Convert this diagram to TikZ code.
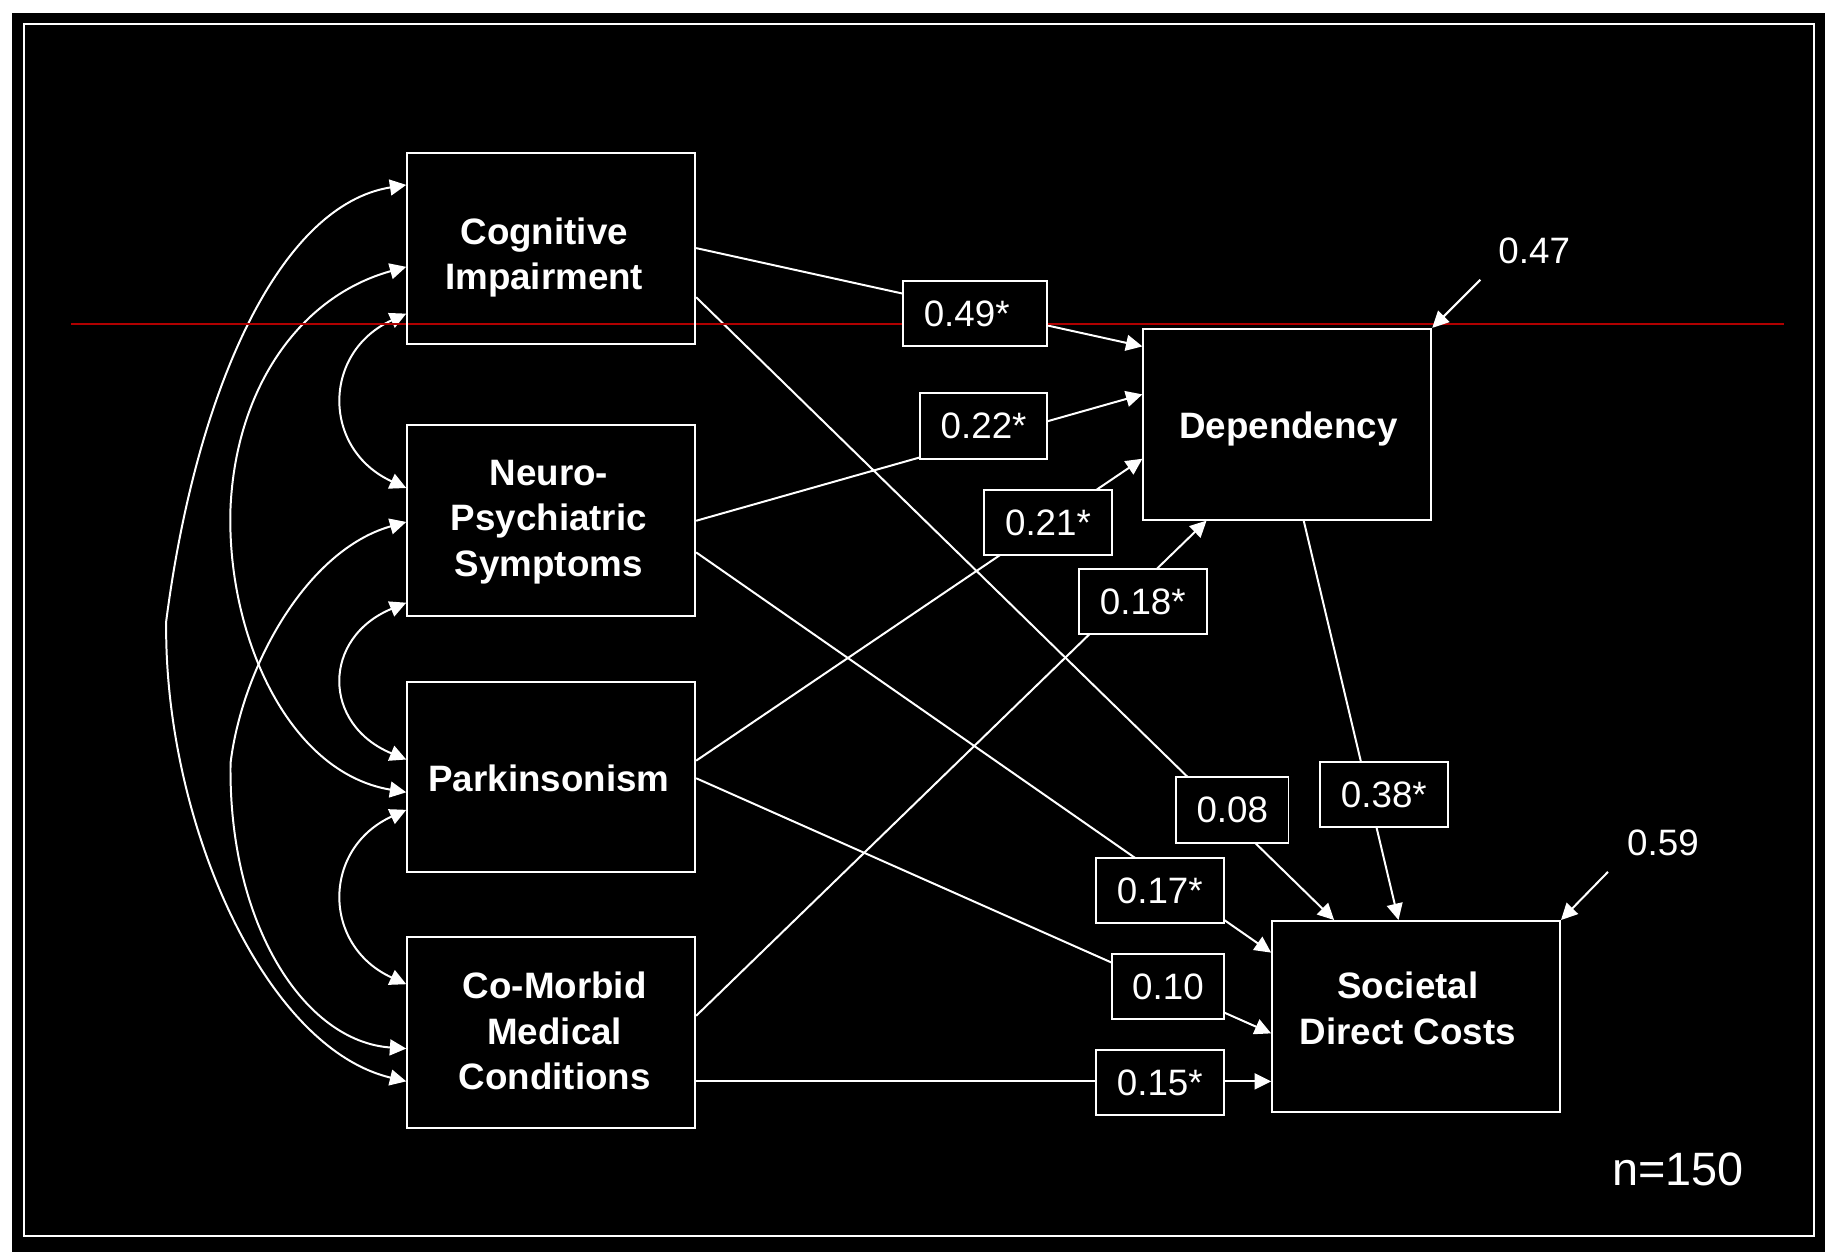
\documentclass[tikz,border=0pt]{standalone}
\usepackage{fontspec}
\setmainfont{Liberation Sans}
\usetikzlibrary{arrows.meta,calc}
\pgfdeclarelayer{frame}
\pgfdeclarelayer{lines}
\pgfsetlayers{frame,lines,main}
\definecolor{redline}{RGB}{176,0,0}
\tikzset{
  tipx/.tip={Triangle[length=7pt,width=6.8pt]},
  conn/.style={white, line width=0.85pt, -tipx},
  cov/.style={white, line width=0.85pt, tipx-tipx},
  varbox/.style={draw=white, line width=0.85pt, minimum width=123pt, minimum height=81.5pt, inner sep=0pt},
  vartext/.style={text=white, font=\fontsize{15.7pt}{19.5pt}\selectfont\bfseries, align=center, inner sep=0pt},
  coef/.style={draw=white, fill=black, line width=0.85pt, text=white, font=\fontsize{15.7pt}{19pt}\selectfont, minimum width=54.5pt, minimum height=28pt, inner sep=0pt},
  resid/.style={text=white, font=\fontsize{15.7pt}{19pt}\selectfont, inner sep=0pt},
}
\begin{document}
\begin{tikzpicture}[x=0.5pt,y=-0.5pt]
\begin{pgfonlayer}{frame}
\fill[white] (0,0) rectangle (1568,1075);
\fill[black] (10.25,11.1) rectangle (1559.4,1069.9);
\draw[white, line width=0.85pt] (20.5,20.5) rectangle (1550,1056.2);
\end{pgfonlayer}
\useasboundingbox (0,0) rectangle (1568,1075);

% variable boxes
\node[varbox] (cog)  at (471,212.5) {};
\node[varbox] (neu)  at (471,445) {};
\node[varbox] (park) at (471,664) {};
\node[varbox] (com)  at (471,882.5) {};
\node[varbox] (dep)  at (1100,362.5) {};
\node[varbox] (soc)  at (1210,868.5) {};

\node[vartext] (cogt)  at (465,220) {Cognitive\\Impairment};
\node[vartext] (neut)  at (469,446) {Neuro-\\Psychiatric\\Symptoms};
\node[vartext] (parkt) at (469,665) {Parkinsonism};
\node[vartext] (comt)  at (474,881) {Co-Morbid\\Medical\\Conditions};
\node[vartext] (dept)  at (1101,367) {Dependency};
\node[vartext] (soct)  at (1203,861.5) {Societal\\Direct Costs};

% coefficient boxes
\node[coef, minimum width=61.5pt] (c49) at (833.5,268) {};
\node[resid] (c49t) at (826,268) {0.49*};
\node[coef] (c22) at (840.5,364) {0.22*};
\node[coef] (c21) at (895.5,446.5) {0.21*};
\node[coef] (c18) at (976.5,514) {0.18*};
\node[coef, minimum width=48pt] (c08) at (1053,692) {0.08};
\node[coef] (c38) at (1182.5,679) {0.38*};
\node[coef] (c17) at (991,761) {0.17*};
\node[coef, minimum width=48pt] (c10) at (998,843) {0.10};
\node[coef] (c15) at (991,925) {0.15*};

% residual labels and n
\node[resid] (l47) at (1311,214) {0.47};
\node[resid] (l59) at (1421,720) {0.59};
\node[resid, font=\fontsize{20pt}{24pt}\selectfont] (nn) at (1434,999) {n=150};
\coordinate (r47) at (1265,239);
\coordinate (r59) at (1374,745);

\begin{pgfonlayer}{lines}
% covariances
\draw[cov] (cog.west |- 0,268) .. controls (275,301) and (275,384) .. (neu.west |- 0,417);
\draw[cov] (neu.west |- 0,515) .. controls (275,545) and (275,619) .. (park.west |- 0,649);
\draw[cov] (park.west |- 0,692) .. controls (275,725) and (275,808) .. (com.west |- 0,841);
\draw[cov] (cog.west |- 0,228) .. controls (257,253) and (202,330) .. (197,433)
           .. controls (193,540) and (245,660) .. (park.west |- 0,677);
\draw[cov] (neu.west |- 0,446) .. controls (262,470) and (207,570) .. (197,652)
           .. controls (195,790) and (260,890) .. (com.west |- 0,896);
\draw[cov] (cog.west |- 0,158) .. controls (240,175) and (168,330) .. (142,531)
           .. controls (140,700) and (225,895) .. (com.west |- 0,924);
% paths
\draw[conn] (cog.east |- 0,212) -- (dep.west |- 0,296);
\draw[conn] (neu.east |- 0,445) -- (dep.west |- 0,337);
\draw[conn] (park.east |- 0,650) -- (dep.west |- 0,392);
\draw[conn] (com.east |- 0,868) -- (dep.south -| 1031,0);
\draw[conn] (cog.east |- 0,254) -- (soc.north -| 1140,0);
\draw[conn] (neu.east |- 0,472) -- (soc.west |- 0,814);
\draw[conn] (park.east |- 0,665) -- (soc.west |- 0,883);
\draw[conn] (com.east |- 0,924) -- (soc.west |- 0,924);
\draw[conn] (dep.south -| 1114,0) -- (soc.north -| 1195,0);
% red line
\draw[redline, line width=1.1pt] (61,277) -- (1524,277);
% residual arrows
\draw[conn] (r47) -- (dep.north east);
\draw[conn] (r59) -- (soc.north east);
\end{pgfonlayer}
\end{tikzpicture}
\end{document}
